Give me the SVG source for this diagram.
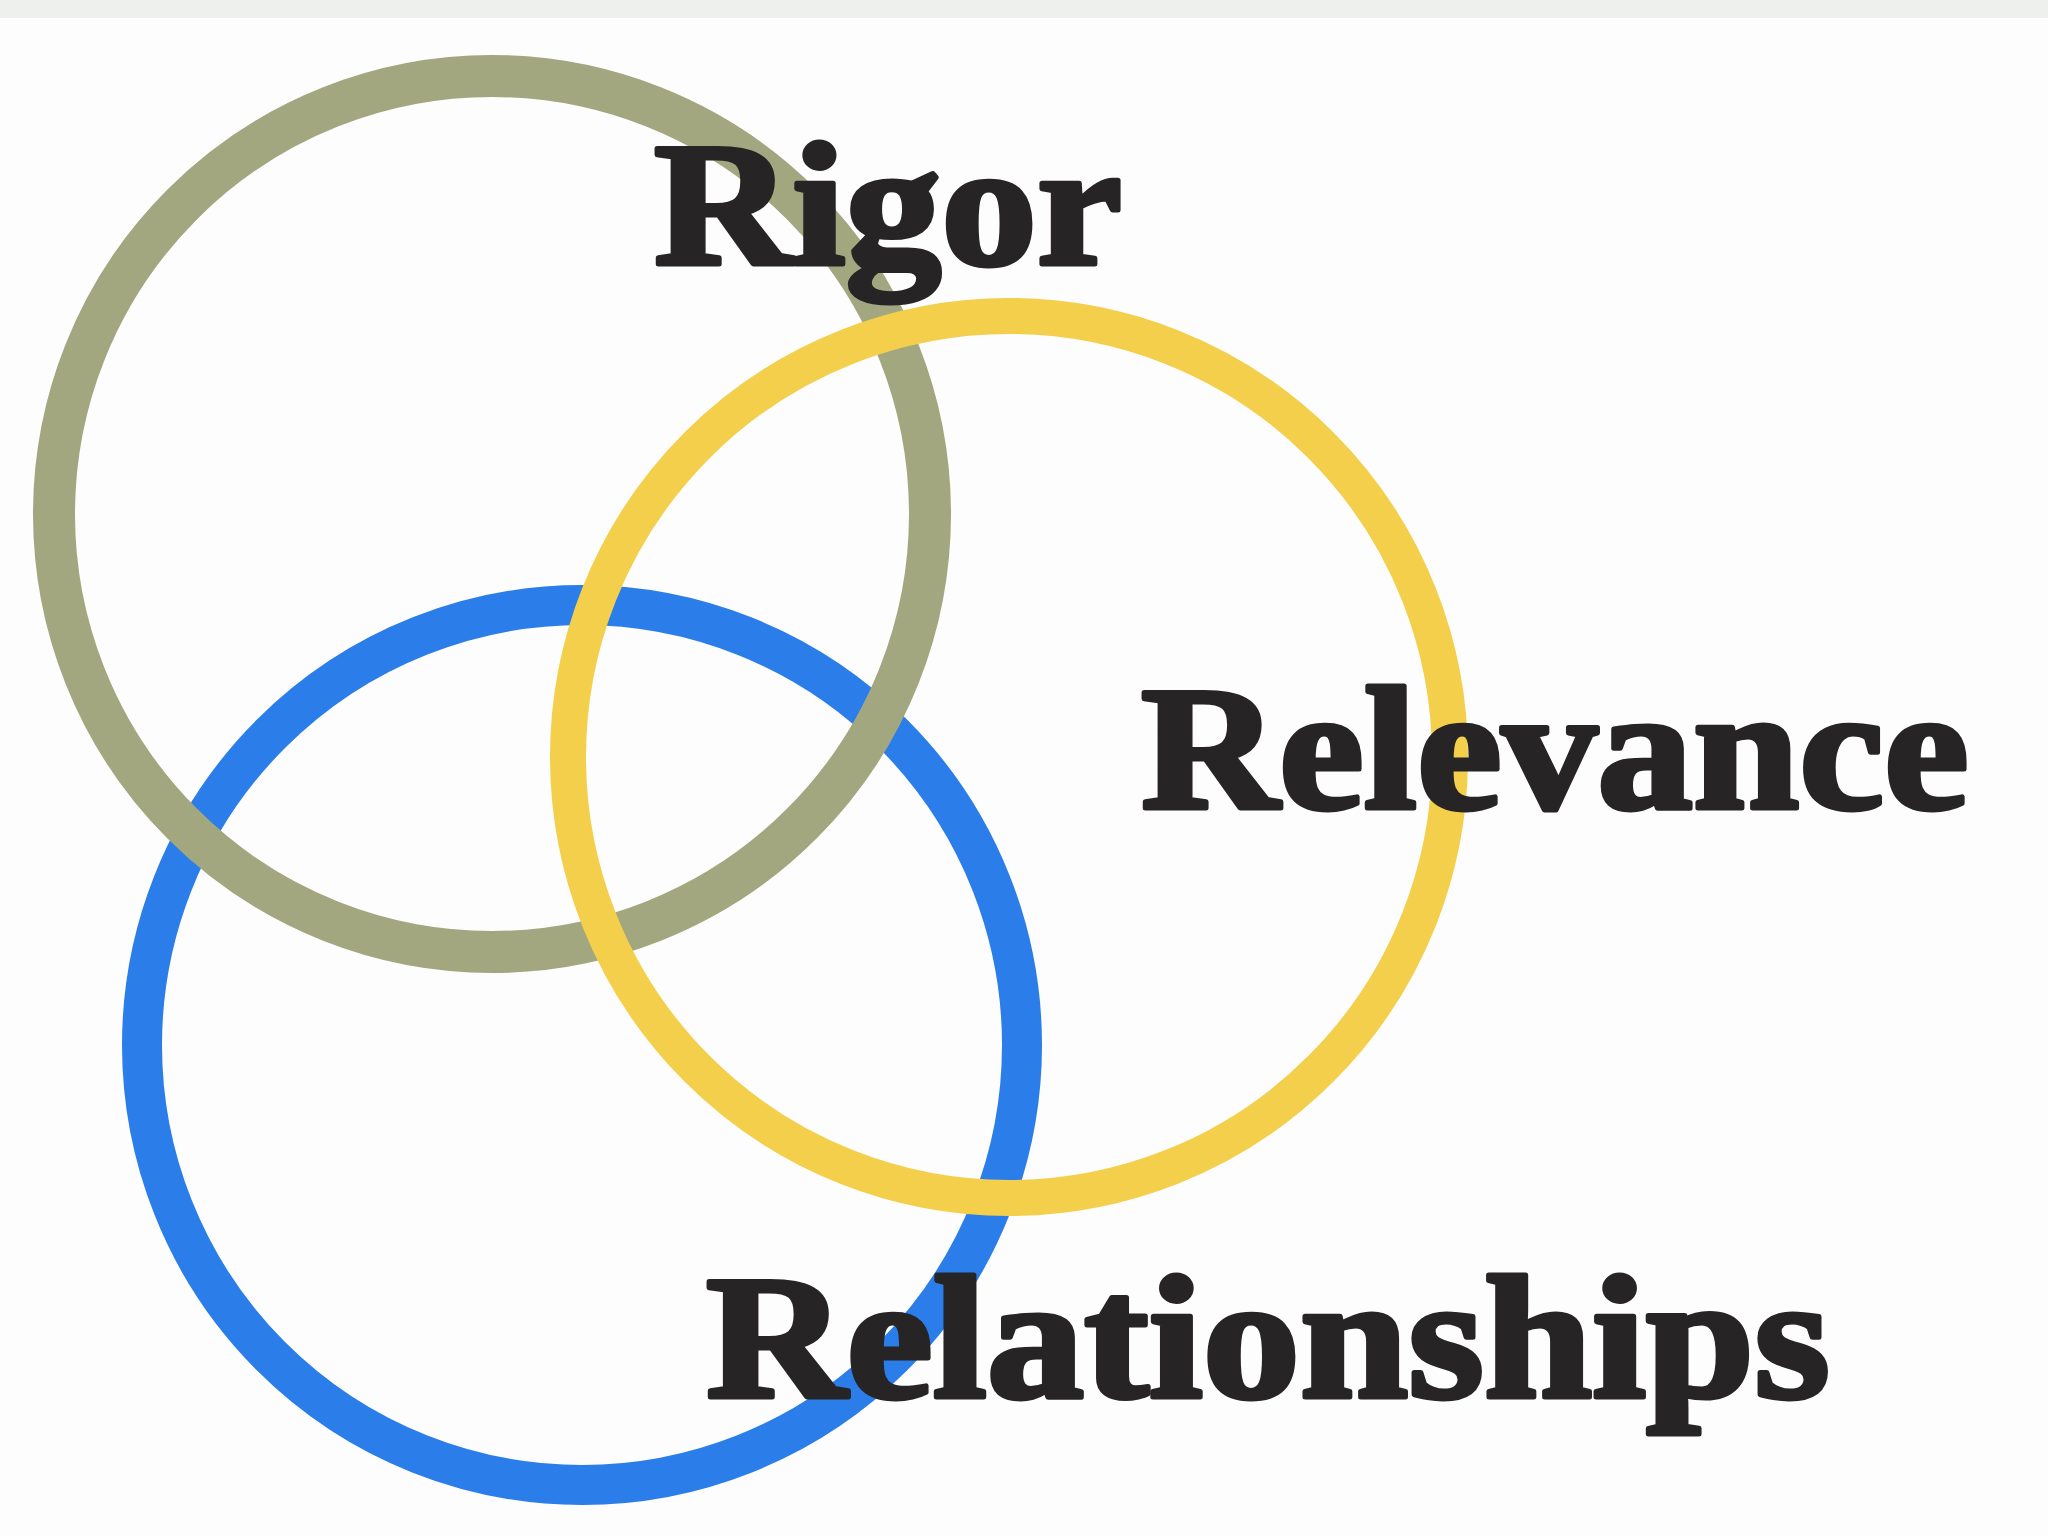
<svg xmlns="http://www.w3.org/2000/svg" width="2048" height="1536" viewBox="0 0 2048 1536">
<style>
.ring{fill:none}
.lbl{font-family:"Liberation Serif","Times New Roman",serif;font-weight:bold;font-size:176px;fill:#262424;stroke:#262424;stroke-width:5;stroke-linejoin:round}
</style>
<rect width="2048" height="1536" fill="#fdfdfd"/>
<rect width="2048" height="18" fill="#eef0ed"/>
<g id="ring-relationships"><circle class="ring" cx="582" cy="1045" r="440" stroke="#2b7de9" stroke-width="40"/></g>
<g id="ring-rigor"><circle class="ring" cx="492" cy="514" r="438" stroke="#a3a780" stroke-width="42"/></g>
<g id="ring-relevance"><circle class="ring" cx="1009" cy="757" r="441" stroke="#f3cf4c" stroke-width="36"/></g>
<g id="connectors"/>
<g id="label-rigor"><text class="lbl" transform="translate(654 264) scale(1.088 1)">Rigor</text></g>
<g id="label-relevance"><text class="lbl" transform="translate(1141 808) scale(1.086 1)">Relevance</text></g>
<g id="label-relationships"><text class="lbl" transform="translate(706 1397) scale(1.105 1)">Relationships</text></g>
</svg>
